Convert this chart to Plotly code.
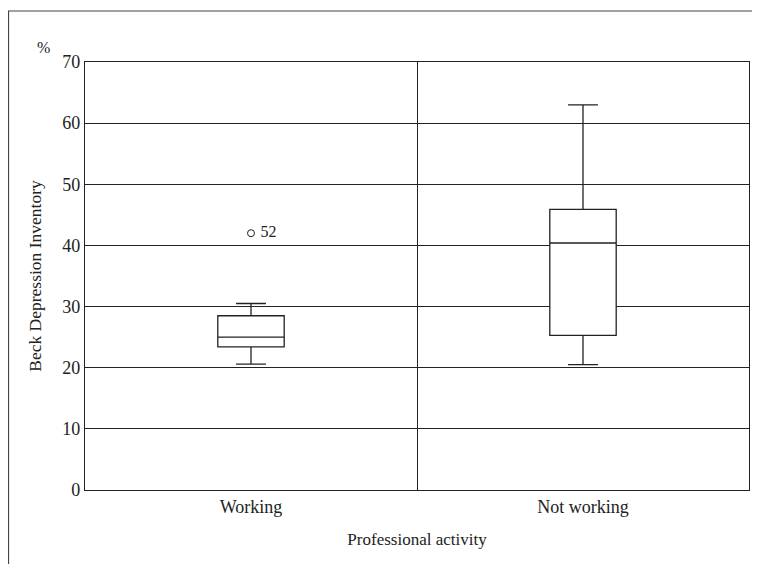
import plotly.graph_objects as go

categories = ["Working", "Not working"]
lower_whisker = [20.6, 20.5]
q1_values = [23.4, 25.3]
median_values = [25.0, 40.4]
q3_values = [28.5, 45.9]
upper_whisker = [30.5, 63.0]
outlier_category = ["Working"]
outlier_value = [42.0]
outlier_label = ["52"]
y_ticks = [0, 10, 20, 30, 40, 50, 60, 70]

FONT = "Liberation Serif"
INK = "#222222"

fig = go.Figure()
for i, cat in enumerate(categories):
    fig.add_trace(go.Box(
        x=[cat], q1=[q1_values[i]], median=[median_values[i]], q3=[q3_values[i]],
        lowerfence=[lower_whisker[i]], upperfence=[upper_whisker[i]],
        fillcolor="white", line=dict(color=INK, width=1.3),
        width=0.2, whiskerwidth=0.45, boxpoints=False, showlegend=False,
    ))

fig.add_trace(go.Scatter(
    x=outlier_category, y=outlier_value, mode="markers+text",
    text=[" " + t for t in outlier_label], textposition="middle right",
    textfont=dict(family=FONT, size=16, color=INK),
    marker=dict(symbol="circle-open", size=7, color=INK, line=dict(width=1)),
    showlegend=False,
))

fig.update_layout(
    width=744, height=556,
    margin=dict(l=77, r=3, t=54, b=74),
    paper_bgcolor="white", plot_bgcolor="white",
    font=dict(family=FONT, size=17, color=INK),
    xaxis=dict(
        type="category", categoryorder="array", categoryarray=categories,
        range=[-0.5, 1.5], tickson="boundaries", showgrid=True,
        gridcolor=INK, gridwidth=1, ticks="", showline=True, mirror=True,
        linecolor=INK, linewidth=1.2, zeroline=False, automargin=False,
        title=dict(text="Professional activity", standoff=17, font=dict(size=17)),
        tickfont=dict(size=18),
    ),
    yaxis=dict(
        range=[0, 70], tickvals=y_ticks, showgrid=True, gridcolor=INK, gridwidth=1,
        ticks="", showline=True, mirror=True, linecolor=INK, linewidth=1.2,
        zeroline=False, tickfont=dict(size=18), automargin=False,
        title=dict(text="Beck Depression Inventory", standoff=16, font=dict(size=17.5)),
    ),
    annotations=[dict(
        text="%", xref="paper", yref="paper", x=-0.062, y=1.033,
        showarrow=False, font=dict(family=FONT, size=16, color=INK),
        xanchor="center", yanchor="middle",
    )],
    shapes=[dict(
        type="path", xref="paper", yref="paper",
        path="M -0.1152,-0.3 L -0.1152,1.1192 L 1.1,1.1192",
        line=dict(color="#444444", width=1.2),
    )],
)

fig.write_html("out.html")
